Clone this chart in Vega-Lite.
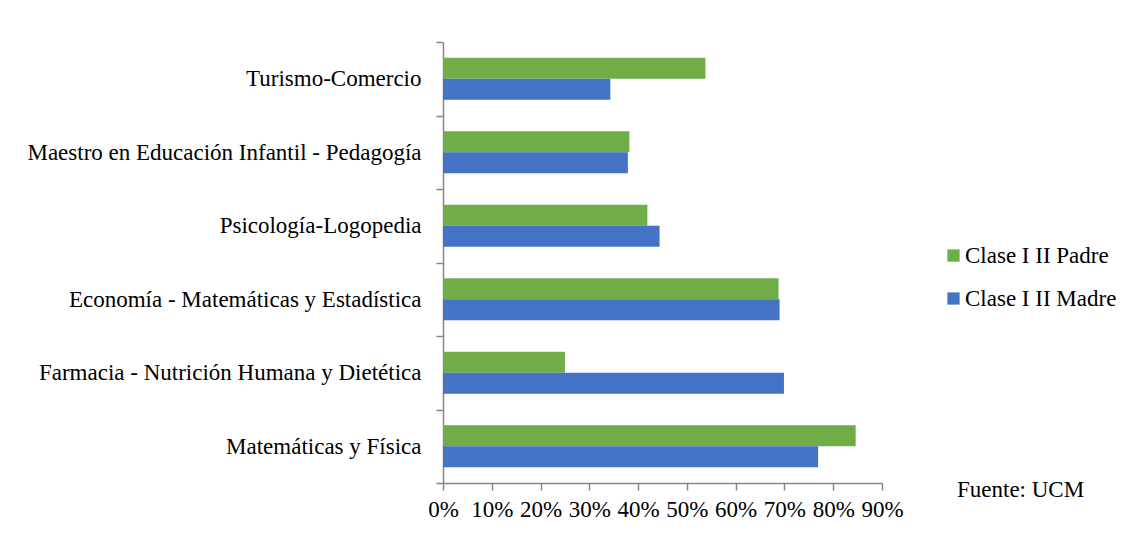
{
  "$schema": "https://vega.github.io/schema/vega-lite/v6.json",
  "autosize": {"type": "none"},
  "width": 439,
  "height": 441,
  "padding": {"left": 443, "top": 42, "right": 249, "bottom": 53},
  "background": "white",
  "config": {
    "font": "Liberation Serif",
    "view": {"stroke": null}
  },
  "title": {
    "text": "Fuente: UCM",
    "orient": "bottom",
    "anchor": "start",
    "frame": "group",
    "dx": 514,
    "dy": -46,
    "font": "Liberation Serif",
    "fontSize": 23,
    "fontWeight": "normal",
    "color": "#000000"
  },
  "data": {
    "values": [
      {"carrera": "Turismo-Comercio", "serie": "Clase I II Padre", "valor": 0.538},
      {"carrera": "Turismo-Comercio", "serie": "Clase I II Madre", "valor": 0.343},
      {"carrera": "Maestro en Educación Infantil - Pedagogía", "serie": "Clase I II Padre", "valor": 0.382},
      {"carrera": "Maestro en Educación Infantil - Pedagogía", "serie": "Clase I II Madre", "valor": 0.379},
      {"carrera": "Psicología-Logopedia", "serie": "Clase I II Padre", "valor": 0.419},
      {"carrera": "Psicología-Logopedia", "serie": "Clase I II Madre", "valor": 0.444},
      {"carrera": "Economía - Matemáticas y Estadística", "serie": "Clase I II Padre", "valor": 0.688},
      {"carrera": "Economía - Matemáticas y Estadística", "serie": "Clase I II Madre", "valor": 0.690},
      {"carrera": "Farmacia - Nutrición Humana y Dietética", "serie": "Clase I II Padre", "valor": 0.250},
      {"carrera": "Farmacia - Nutrición Humana y Dietética", "serie": "Clase I II Madre", "valor": 0.699},
      {"carrera": "Matemáticas y Física", "serie": "Clase I II Padre", "valor": 0.846},
      {"carrera": "Matemáticas y Física", "serie": "Clase I II Madre", "valor": 0.769}
    ]
  },
  "mark": {"type": "bar"},
  "encoding": {
    "y": {
      "field": "carrera",
      "type": "nominal",
      "sort": null,
      "scale": {"paddingInner": 0, "paddingOuter": 0},
      "axis": {
        "title": null,
        "tickBand": "extent",
        "tickSize": 7,
        "tickColor": "#868686",
        "domainColor": "#868686",
        "tickWidth": 1.5,
        "domainWidth": 1.5,
        "labelFont": "Liberation Serif",
        "labelFontSize": 23,
        "labelColor": "#000000",
        "labelPadding": 15,
        "labelLimit": 500
      }
    },
    "yOffset": {
      "field": "serie",
      "type": "nominal",
      "sort": ["Clase I II Padre", "Clase I II Madre"],
      "scale": {"paddingInner": 0, "paddingOuter": 0.75}
    },
    "x": {
      "field": "valor",
      "type": "quantitative",
      "scale": {"domain": [0, 0.9], "nice": false},
      "axis": {
        "title": null,
        "format": ".0%",
        "values": [0, 0.1, 0.2, 0.3, 0.4, 0.5, 0.6, 0.7, 0.8, 0.9],
        "grid": false,
        "tickSize": 7,
        "tickColor": "#868686",
        "domainColor": "#868686",
        "tickWidth": 1.5,
        "domainWidth": 1.5,
        "labelFont": "Liberation Serif",
        "labelFontSize": 23,
        "labelColor": "#000000",
        "labelPadding": 8,
        "labelFlush": false,
        "labelOverlap": false
      }
    },
    "color": {
      "field": "serie",
      "type": "nominal",
      "scale": {"domain": ["Clase I II Padre", "Clase I II Madre"], "range": ["#70AD47", "#4472C4"]},
      "legend": {
        "title": null,
        "orient": "none",
        "legendX": 499,
        "legendY": 202,
        "padding": 0,
        "symbolType": "square",
        "symbolSize": 150,
        "symbolStrokeWidth": 0,
        "labelFont": "Liberation Serif",
        "labelFontSize": 23,
        "labelColor": "#000000",
        "labelOffset": 0,
        "rowPadding": 19
      }
    }
  }
}
